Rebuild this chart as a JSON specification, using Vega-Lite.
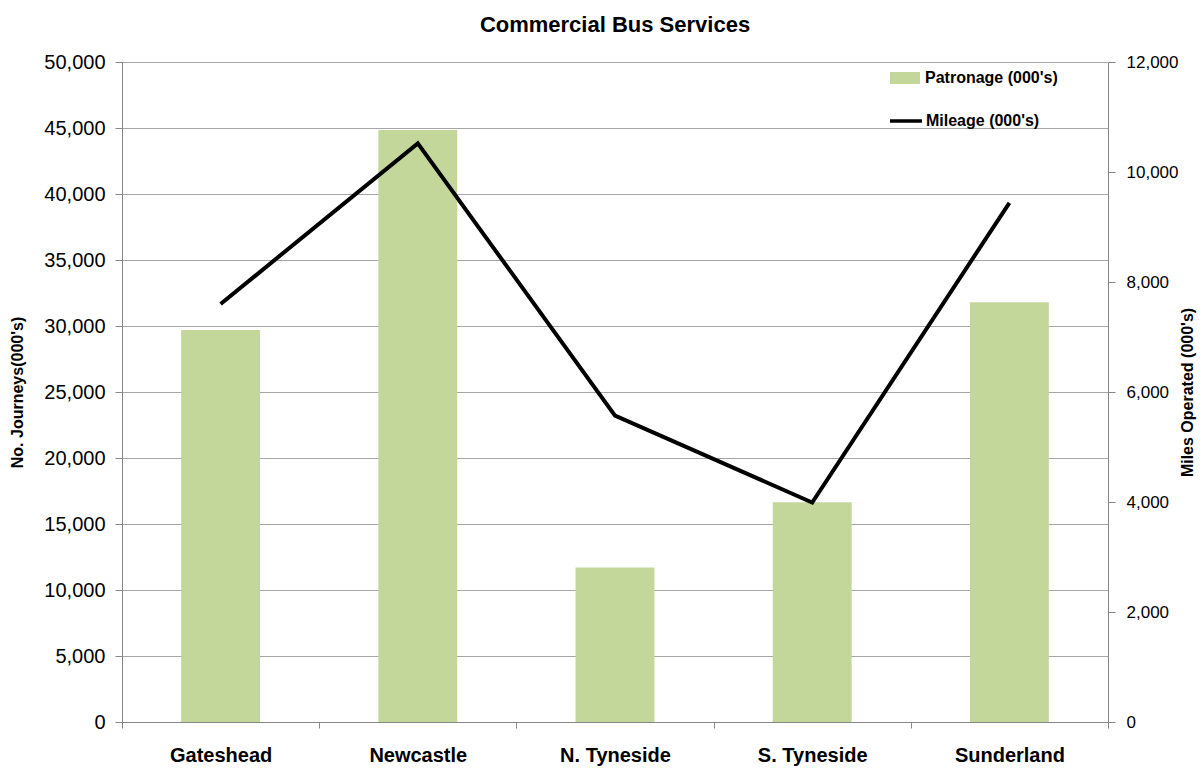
{
  "$schema": "https://vega.github.io/schema/vega-lite/v6.json",
  "width": 986,
  "height": 660,
  "autosize": {"type": "none"},
  "padding": {"left": 122, "top": 62, "right": 96, "bottom": 47},
  "background": "white",
  "title": {"text": "Commercial Bus Services", "fontSize": 22, "font": "Liberation Sans", "fontWeight": "bold", "color": "#000000", "anchor": "middle", "offset": 15},
  "config": {"view": {"stroke": null}, "font": "Liberation Sans"},
  "data": {"values": [
    {"area": "Gateshead", "patronage": 29700, "mileage": 7600},
    {"area": "Newcastle", "patronage": 44850, "mileage": 10520},
    {"area": "N. Tyneside", "patronage": 11700, "mileage": 5570},
    {"area": "S. Tyneside", "patronage": 16650, "mileage": 3990},
    {"area": "Sunderland", "patronage": 31800, "mileage": 9440}
  ]},
  "encoding": {
    "x": {
      "field": "area", "type": "nominal", "sort": null,
      "scale": {"paddingInner": 0, "paddingOuter": 0},
      "axis": {"title": null, "labelAngle": 0, "labelFontSize": 20, "labelFontWeight": "bold", "labelColor": "#000000", "tickBand": "extent", "tickSize": 6, "labelPadding": 17, "domainColor": "#868686", "tickColor": "#868686", "grid": false}
    }
  },
  "layer": [
    {
      "mark": {"type": "bar", "width": {"band": 0.4}},
      "encoding": {
        "y": {
          "field": "patronage", "type": "quantitative",
          "scale": {"domain": [0, 50000], "nice": false},
          "axis": {"orient": "left", "values": [0, 5000, 10000, 15000, 20000, 25000, 30000, 35000, 40000, 45000, 50000], "format": ",d", "labelFontSize": 20, "labelColor": "#000000", "domainColor": "#868686", "tickColor": "#868686", "tickSize": 7, "labelPadding": 10, "grid": true, "gridColor": "#a6a6a6", "title": "No. Journeys(000's)", "titleFontSize": 16, "titleFontWeight": "bold", "titleColor": "#000000", "titlePadding": 18}
        },
        "fill": {
          "datum": "Patronage (000's)",
          "scale": {"range": ["#c4d79b"]},
          "legend": {"orient": "none", "legendX": 768, "legendY": 1, "title": null, "padding": 0, "symbolType": "M-1,-0.4H1V0.4H-1Z", "symbolSize": 900, "symbolStrokeWidth": 0, "labelFontSize": 16, "labelFontWeight": "bold", "labelColor": "#000000", "labelOffset": 5}
        }
      }
    },
    {
      "mark": {"type": "line", "strokeWidth": 4},
      "encoding": {
        "y": {
          "field": "mileage", "type": "quantitative",
          "scale": {"domain": [0, 12000], "nice": false},
          "axis": {"orient": "right", "values": [0, 2000, 4000, 6000, 8000, 10000, 12000], "format": ",d", "labelFontSize": 17, "labelColor": "#000000", "domainColor": "#868686", "tickColor": "#868686", "tickSize": 7, "labelPadding": 11, "grid": false, "title": "Miles Operated (000's)", "titleAngle": 270, "titleFontSize": 16, "titleFontWeight": "bold", "titleColor": "#000000", "titlePadding": 18}
        },
        "stroke": {
          "datum": "Mileage (000's)",
          "scale": {"range": ["#000000"]},
          "legend": {"orient": "none", "legendX": 766, "legendY": 41, "title": null, "padding": 0, "symbolType": "stroke", "symbolSize": 1024, "symbolStrokeWidth": 3.5, "labelFontSize": 16, "labelFontWeight": "bold", "labelColor": "#000000", "labelOffset": 2}
        }
      }
    }
  ],
  "resolve": {"scale": {"y": "independent", "fill": "independent", "stroke": "independent"}}
}
